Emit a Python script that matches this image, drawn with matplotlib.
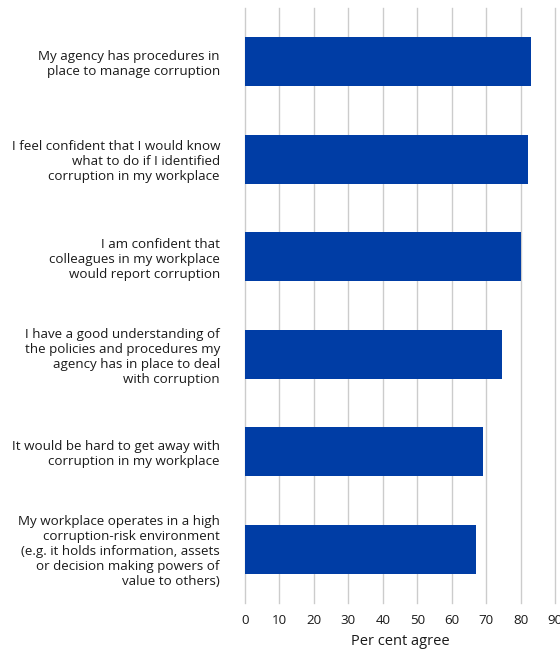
import matplotlib.pyplot as plt

statements = [
    'My agency has procedures in\nplace to manage corruption',
    'I feel confident that I would know\nwhat to do if I identified\ncorruption in my workplace',
    'I am confident that\ncolleagues in my workplace\nwould report corruption',
    'I have a good understanding of\nthe policies and procedures my\nagency has in place to deal\nwith corruption',
    'It would be hard to get away with\ncorruption in my workplace',
    'My workplace operates in a high\ncorruption-risk environment\n(e.g. it holds information, assets\nor decision making powers of\nvalue to others)',
]
agree = [83, 82, 80, 74.5, 69, 67]
xticks = [0, 10, 20, 30, 40, 50, 60, 70, 80, 90]

plt.rcParams['font.family'] = ['Open Sans', 'DejaVu Sans']

fig = plt.figure(figsize=(5.6, 6.51), dpi=100)
ax = fig.add_axes([0.4375, 0.0737, 0.554, 0.914])

pos = list(range(len(statements)))
ax.barh(pos, agree, height=0.5, color='#003DA5', zorder=3)

ax.set_xlim(0, 90)
ax.set_ylim(len(statements) - 0.45, -0.55)
ax.set_xticks(xticks)
ax.set_yticks(pos)
ax.set_yticklabels(statements, fontsize=9.6, color='#1a1a1a', linespacing=1.2)
ax.tick_params(axis='y', length=0, pad=18)
ax.tick_params(axis='x', length=0, pad=8, labelsize=9.6, labelcolor='#1a1a1a')

ax.grid(axis='x', color='#cccccc', linewidth=1, zorder=0)
for gl in ax.get_xgridlines():
    gl.set_clip_on(False)
for s in ax.spines.values():
    s.set_visible(False)

ax.set_xlabel('Per cent agree', fontsize=10.5, color='#1a1a1a', labelpad=5)

fig.savefig('out.png', dpi=100)
